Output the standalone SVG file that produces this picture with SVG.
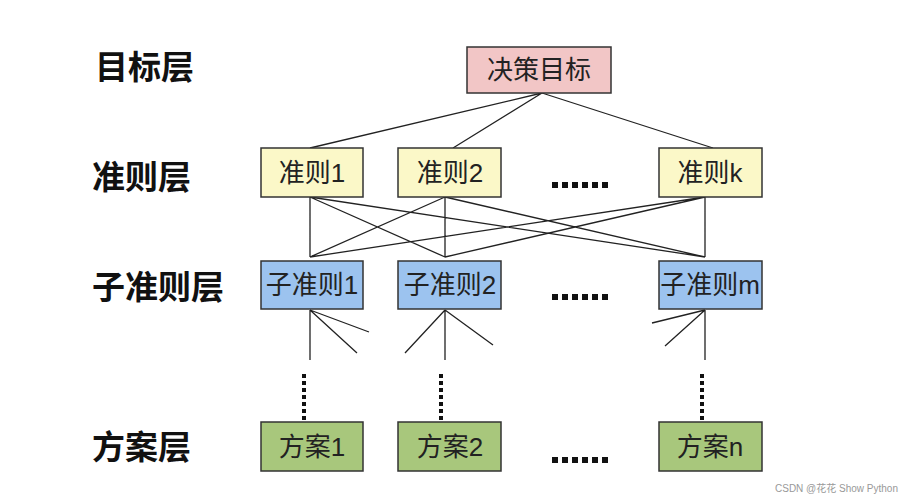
<svg xmlns="http://www.w3.org/2000/svg" width="899" height="500" viewBox="0 0 899 500">
<style>
.lbl{font-family:"Noto Sans CJK SC","Liberation Sans",sans-serif;font-size:33px;font-weight:bold;fill:#111}
.bt{font-family:"Liberation Sans","Noto Sans CJK SC",sans-serif;font-size:26px;fill:#222;text-anchor:middle;dominant-baseline:central}
.box{stroke:#333;stroke-width:1.5}
.ln{stroke:#222;stroke-width:1.3;fill:none}
.dot{stroke:#111;stroke-width:4;stroke-dasharray:4 3;fill:none}
.ell{stroke:#111;stroke-width:6;stroke-dasharray:6 4}
</style>
<rect width="899" height="500" fill="#fff"/>
<text class="lbl" x="95" y="79">目标层</text>
<text class="lbl" x="92" y="189">准则层</text>
<text class="lbl" x="92" y="299">子准则层</text>
<text class="lbl" x="92" y="459">方案层</text>
<g id="connectors">
<path class="ln" d="M542 93L310 148M542 93L453 148M542 93L713 148"/>
<path class="ln" d="M310 197L310 257M310 197L445 257M310 197L705 257M445 197L310 257M445 197L445 257M445 197L705 257M705 197L310 257M705 197L445 257M705 197L705 257"/>
<path class="ln" d="M310 310L369 332M310 310L357 353M310 310L310 360M445 310L405 353M445 310L493 345M445 310L445 360M705 310L652 323M705 310L665 346M705 310L705 360"/>
<path class="dot" d="M304 374V422M441 374V422M702 374V422"/>
</g>
<g id="goal"><rect class="box" x="467" y="47" width="144" height="46" fill="#f2c6c6"/><text class="bt" x="539" y="70">决策目标</text></g>
<g id="c1"><rect class="box" x="261" y="148" width="102" height="49" fill="#fbf8c8"/><text class="bt" x="312" y="173">准则1</text></g>
<g id="c2"><rect class="box" x="398" y="148" width="103" height="49" fill="#fbf8c8"/><text class="bt" x="450" y="173">准则2</text></g>
<g id="ck"><rect class="box" x="659" y="148" width="103" height="49" fill="#fbf8c8"/><text class="bt" x="710" y="173">准则k</text></g>
<g id="s1"><rect class="box" x="261" y="261" width="102" height="48" fill="#9cc3ef"/><text class="bt" x="312" y="285">子准则1</text></g>
<g id="s2"><rect class="box" x="398" y="261" width="103" height="48" fill="#9cc3ef"/><text class="bt" x="450" y="285">子准则2</text></g>
<g id="sm"><rect class="box" x="659" y="261" width="103" height="48" fill="#9cc3ef"/><text class="bt" x="710" y="285">子准则m</text></g>
<g id="p1"><rect class="box" x="261" y="422" width="102" height="49" fill="#a8c77c"/><text class="bt" x="312" y="447">方案1</text></g>
<g id="p2"><rect class="box" x="398" y="422" width="103" height="49" fill="#a8c77c"/><text class="bt" x="450" y="447">方案2</text></g>
<g id="pn"><rect class="box" x="659" y="422" width="103" height="49" fill="#a8c77c"/><text class="bt" x="710" y="447">方案n</text></g>
<g id="ellipses">
<path class="ell" d="M552 185H612M552 297H612M552 460H612"/>
</g>
<text x="775" y="492" font-family="Liberation Sans,Noto Sans CJK SC,sans-serif" font-size="10" fill="#999">CSDN @花花 Show Python</text>
</svg>
